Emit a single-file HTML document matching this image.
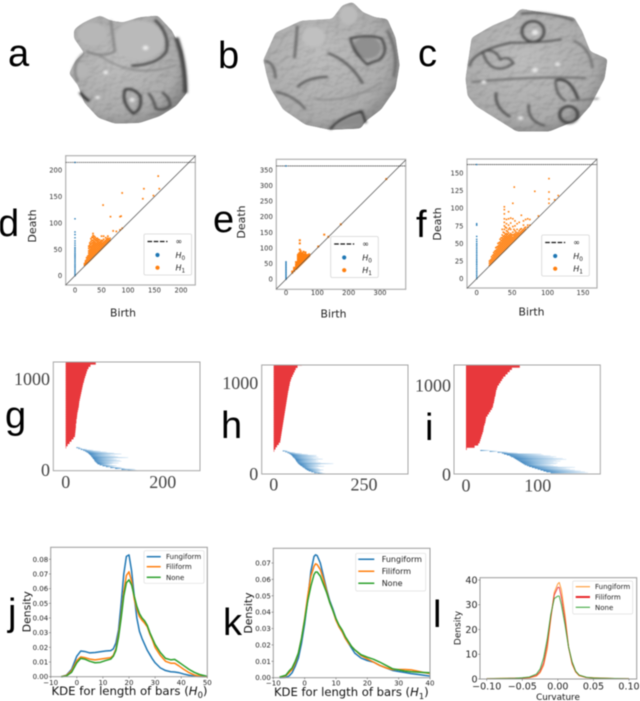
<!DOCTYPE html>
<html lang="en">
<head>
<meta charset="utf-8">
<title>Surface, persistence, barcode and KDE panels</title>
<style>
html,body{margin:0;padding:0;background:#fff;width:640px;height:701px;overflow:hidden}
svg{display:block;filter:blur(.45px)}
text{font-family:"DejaVu Sans","Liberation Sans",sans-serif}
.big{font-family:"Liberation Sans",sans-serif;font-size:38px;fill:#000}
.serif{font-family:"Liberation Serif",serif;font-size:18px;fill:#444}
</style>
</head>
<body>
<svg id="figure" width="640" height="701" viewBox="0 0 640 701" xmlns="http://www.w3.org/2000/svg">
<defs>
<filter id="soft1" x="-20%" y="-20%" width="140%" height="140%"><feGaussianBlur stdDeviation="3"/></filter>
<filter id="soft2" x="-30%" y="-30%" width="160%" height="160%"><feGaussianBlur stdDeviation="9"/></filter>
<filter id="bump" x="-5%" y="-5%" width="110%" height="110%">
<feGaussianBlur in="SourceGraphic" stdDeviation="5" result="b"/>
<feComponentTransfer in="b" result="rounded"><feFuncA type="linear" slope="10" intercept="-4.5"/></feComponentTransfer>
<feTurbulence type="fractalNoise" baseFrequency=".045" numOctaves="2" seed="4" result="n"/>
<feDiffuseLighting in="n" surfaceScale="2.6" diffuseConstant="1.08" lighting-color="#fff" result="l"><feDistantLight azimuth="60" elevation="62"/></feDiffuseLighting>
<feBlend in="rounded" in2="l" mode="multiply" result="m"/>
<feComposite in="m" in2="rounded" operator="in"/>
</filter>
<radialGradient id="shadeA" cx=".42" cy=".42" r=".68"><stop offset="0" stop-color="#bdbdbd"/><stop offset=".72" stop-color="#ababab"/><stop offset="1" stop-color="#7a7a7a"/></radialGradient>
<linearGradient id="blueFade" x1="0" x2="1" y1="0" y2="0"><stop offset="0" stop-color="#3f86c0"/><stop offset=".4" stop-color="#8cb9dc"/><stop offset="1" stop-color="#e2eef8"/></linearGradient>
</defs>

<g transform="scale(.41,.342)">
<path filter="url(#bump)" fill="url(#shadeA)" d="M180,88 Q200,62 245,45 L270,60 L300,65 L340,50 L385,45 L420,90 L445,150 L452,210 L456,272 L430,310 L390,340 L340,360 L280,362 L240,345 L205,300 L190,250 L168,215 L185,175 L205,155 L180,112Z"/>
<ellipse cx="340" cy="118" rx="62" ry="58" fill="#bababa" filter="url(#soft1)"/>
<ellipse cx="225" cy="100" rx="36" ry="34" fill="#b7b7b7" filter="url(#soft1)"/>
<ellipse cx="195" cy="205" rx="20" ry="22" fill="#b5b5b5" filter="url(#soft1)"/>
<g fill="none" stroke="#4a4a4a" filter="url(#soft1)">
<path stroke-width="6" stroke="#3c3c3c" d="M378,58 Q415,100 406,150 Q385,190 320,192"/>
<path stroke-width="11" stroke="#4a4a4a" d="M430,110 Q452,180 452,272"/>
<path stroke-width="5" stroke="#7b7b7b" d="M270,60 Q276,110 280,150 Q250,170 210,150"/>
<path stroke-width="5" stroke="#7b7b7b" d="M205,155 Q170,190 190,240"/>
<path stroke-width="4" stroke="#868686" d="M240,160 Q330,235 430,190"/>
<path stroke-width="7" stroke="#262626" d="M195,270 Q208,290 218,295"/>
<path stroke-width="6" stroke="#303030" d="M305,262 Q295,300 325,332 Q348,320 342,280 Q325,255 305,262Z"/>
<path stroke-width="6" stroke="#4a4a4a" d="M362,272 Q375,290 380,318 Q400,325 415,310 Q415,285 395,270"/>
</g>
<g fill="#ececec" filter="url(#soft1)"><circle cx="355" cy="140" r="7"/><circle cx="258" cy="212" r="6"/><circle cx="322" cy="292" r="6"/><circle cx="238" cy="285" r="5"/></g>
</g>

<g transform="scale(.41,.342)">
<path filter="url(#bump)" fill="url(#shadeA)" d="M642,175 L672,95 L735,60 L810,55 L835,15 L860,5 L885,35 L915,50 L945,55 L965,110 L975,190 L965,260 L930,320 L892,355 L880,376 L805,380 L745,365 L690,320 L660,260 L650,220Z"/>
<ellipse cx="765" cy="108" rx="28" ry="30" fill="#c0c0c0" filter="url(#soft1)"/>
<ellipse cx="850" cy="45" rx="22" ry="28" fill="#bcbcbc" filter="url(#soft1)"/>
<ellipse cx="895" cy="140" rx="34" ry="32" fill="#8f8f8f" filter="url(#soft1)"/>
<g fill="none" stroke="#555" filter="url(#soft1)">
<path stroke-width="5" stroke="#333" d="M855,112 Q900,100 930,112 Q950,150 925,175 L895,188 Q860,150 855,112Z"/>
<path stroke-width="5" d="M725,75 Q722,130 718,170"/>
<path stroke-width="6" d="M800,155 Q855,180 885,245"/>
<path stroke-width="5" d="M645,178 Q670,180 672,230"/>
<path stroke-width="6" d="M725,255 Q750,225 800,225"/>
<path stroke-width="5" d="M672,268 Q720,280 745,320"/>
<path stroke-width="6" stroke="#666" d="M945,90 Q975,160 960,225"/>
<path stroke-width="6" stroke="#333" d="M805,378 Q830,342 882,326 L892,360"/>
<path stroke-width="4" stroke="#888" d="M770,290 Q860,300 930,240"/>
</g>
<path d="M815,372 Q840,345 880,335 L885,358 Q850,368 815,372Z" fill="#8a8a8a" filter="url(#soft1)"/>
</g>

<g transform="scale(.41,.342)">
<path filter="url(#bump)" fill="url(#shadeA)" d="M1135,230 L1150,110 L1200,75 L1250,50 L1270,25 L1340,40 L1400,50 L1420,90 L1440,150 L1482,172 L1475,230 L1440,310 L1410,350 L1340,385 L1260,385 L1200,340 L1160,310 L1140,280Z"/>
<g fill="none" stroke="#4a4a4a" filter="url(#soft1)">
<ellipse cx="1300" cy="92" rx="27" ry="30" stroke-width="6" stroke="#3a3a3a"/>
<path stroke-width="5" d="M1270,40 Q1330,30 1400,60"/>
<path stroke-width="5" d="M1145,195 Q1150,150 1245,125 Q1320,125 1370,115"/>
<path stroke-width="5" d="M1178,150 Q1210,140 1220,175 Q1240,160 1252,185 Q1225,210 1200,195 Q1180,175 1178,150"/>
<path stroke-width="5" stroke="#666" d="M1150,240 Q1300,222 1430,228"/>
<path stroke-width="6" stroke="#333" d="M1355,235 Q1390,222 1410,290"/>
<path stroke-width="5" d="M1355,235 Q1355,280 1380,295"/>
<ellipse cx="1387" cy="335" rx="22" ry="24" stroke-width="7" stroke="#3a3a3a"/>
<path stroke-width="6" d="M1210,270 Q1205,315 1245,342"/>
<path stroke-width="5" d="M1290,305 Q1285,355 1330,368"/>
<path stroke-width="5" stroke="#666" d="M1400,120 Q1440,140 1445,200"/>
<path stroke-width="4" stroke="#666" d="M1390,295 L1460,288"/>
</g>
<g fill="#e8e8e8" filter="url(#soft1)"><circle cx="1305" cy="205" r="7"/><circle cx="1360" cy="188" r="6"/><circle cx="1180" cy="240" r="6"/><circle cx="1270" cy="345" r="6"/><circle cx="1305" cy="95" r="8"/></g>
</g>

<text class="big" x="8" y="66">a</text>
<text class="big" x="218" y="68">b</text>
<text class="big" x="418" y="66">c</text>
<text class="big" x="-2" y="236">d</text>
<text class="big" x="213" y="232">e</text>
<text class="big" x="416" y="237">f</text>
<text class="big" x="5" y="428">g</text>
<text class="big" x="221" y="438">h</text>
<text class="big" x="425" y="440">i</text>
<text class="big" x="8" y="625">j</text>
<text class="big" x="223" y="635">k</text>
<text class="big" x="433" y="627">l</text>
</svg>

<script>
// ---------- persistence diagram data: [birth, [deaths...]] ----------
const dH1 = [[18,[20,23]],[22,[23,26,30,34]],[26,[27,31,35,39,43,47,52,56]],[30,[31,35,39,43,47,51,55,60,65,70]],[34,[35,39,43,47,51,55,59,63,67,72,76,80]],[38,[39,43,47,51,55,59,63,68,73]],[42,[43,47,51,55,59,63,67,71]],[46,[47,51,55,59,63,68]],[50,[51,55,59,63,67,75]],[54,[55,59,63,69,75]],[58,[59,63,67,72]],[62,[63,67,71,75]],[66,[67,71]],
[20,[22,25,28]],[24,[25,29,33,37]],[28,[29,33,37,41,45,49,54,58,62]],[32,[33,37,41,45,49,53,57,62,67,73]],[36,[37,41,45,49,53,57,61,65,70,75]],[40,[41,45,49,53,57,61,66,70]],[44,[45,49,53,57,61,65,69]],[48,[49,53,57,61,65]],[52,[53,57,61,66]],[56,[57,61,65]],[60,[61,65,69]],[64,[65,69]],
[53,[134]],[67,[112]],[85,[112,87]],[87,[113]],[89,[157,90]],[128,[146]],[130,[165]],[148,[152]],[157,[189]],[159,[165]],[72,[85]],[78,[84]]];
const eH1 = [[20,[21,25]],[26,[27,32,37]],[32,[33,38,43,48,55]],[38,[39,44,49,54,60,66,72,78]],[44,[45,50,55,60,66,72,78,85,95,115,125]],[50,[51,56,61,66,72,78,84]],[56,[57,62,67,73,80,88]],[62,[63,68,74,80,86]],[68,[69,74,78]],[74,[75,80]],
[35,[36,41,46,52]],[41,[42,47,52,57,63,69,75,82]],[47,[48,53,58,63,69,75,81,90]],[53,[54,59,64,70,76,83]],[59,[60,65,71,78]],[65,[66,71,77]],[71,[72,77]],
[103,[105]],[122,[143]],[135,[136]],[175,[176]],[320,[321]]];
const fH1 = [[18,[19,22,25]],[21,[22,25,28,31]],[24,[25,28,31,34,37]],[27,[28,31,34,37,40,44]],[30,[31,34,37,40,43,46,50]],[33,[34,37,40,43,46,49,52,56]],[36,[37,40,43,46,49,52,55,58,62,70]],[39,[40,43,46,49,52,55,58,61,65,70,75,80,85,92,98,102]],[42,[43,46,49,52,55,58,61,64,68,72,78,84]],[45,[46,49,52,55,58,61,65,70,76,85,95]],[48,[49,52,55,58,61,64,70,79,86]],[51,[52,55,58,62,66,74,85,107]],[54,[55,58,61,64,68,75,82]],[57,[58,61,64,70,78]],[60,[61,64,68,80]],[63,[64,67,71,90]],[66,[67,70,76,82]],[69,[70,73,84]],[72,[73,76,85]],[75,[76,84]],
[19.5,[20.5,23.5,26.5]],[22.5,[23.5,26.5,29.5,33]],[25.5,[26.5,29.5,32.5,35.5,39]],[28.5,[29.5,32.5,35.5,38.5,41.5,45]],[31.5,[32.5,35.5,38.5,41.5,44.5,47.5,51]],[34.5,[35.5,38.5,41.5,44.5,47.5,50.5,54,58]],[37.5,[38.5,41.5,44.5,47.5,50.5,53.5,56.5,60,66]],[40.5,[41.5,44.5,47.5,50.5,53.5,56.5,59.5,63,73]],[43.5,[44.5,47.5,50.5,53.5,56.5,59.5,63,67]],[46.5,[47.5,50.5,53.5,56.5,59.5,62.5,72]],[49.5,[50.5,53.5,56.5,59.5,62.5]],[52.5,[53.5,56.5,59.5,62.5,70]],[55.5,[56.5,59.5,62.5,66]],[58.5,[59.5,62.5,65.5]],[61.5,[62.5,65.5,70]],[64.5,[65.5,68.5]],[67.5,[68.5,72]],
[53,[130]],[82,[124]],[87,[89]],[102,[142,123,113,107]],[115,[118]],[110,[112]]];
const dH0 = [0,3,6,9,12,15,18,21,24,27,30,33,36,39,42,45,48,51,54,58,62,66,72,78,83,108];
const eH0 = [0,4,8,12,16,20,24,28,32,36,40,44,48,52,56];
const fH0 = [0,2.5,5,7.5,10,12.5,15,17.5,20,22.5,25,27.5,30,32.5,35,37.5,40,42.5,45,47.5,50,53,56,60,76,78];
const dInfinity = 215;
const eInfinity = 363;
const fInfinity = 162;
const dTicksX = [0,50,100,150,200];
const dTicksY = [0,50,100,150,200];
const eTicksX = [0,100,200,300];
const eTicksY = [0,50,100,150,200,250,300,350];
const fTicksX = [0,50,100,150];
const fTicksY = [0,25,50,75,100,125,150];

// ---------- barcode data ----------
const gRed = [1,4,8,12,16,19,19.5,20,20.5,21,21,22,22,23,23.5,24,25,26,27,27.5,28,29,30,31,32,33,34,35,36,37.5,38.5,40,41.5,43,44.5,47,51,62,100];
const hRed = [1.5,5,9,14,18,19,20,21,22,23,24,25,26,27,28,29,30,31,32,33,34,35,36,37,38,39,40,41.5,42.5,44,45,47,49,52,55,58,61,66,78];
const iRed = [1,12,17,19,20,21,22,23,24,24.5,25,26,27,27.5,28,30,32,34,36,37.5,38,39,39.5,40,41,41.5,42,43,44,46,48,50,52,55,58,61,64,75,87];
const gBlueBirth = [22,26,31,36,40,43,46,48,50,52,53,55,56,58,59,60,62,64,66,70,76,83,92,102,115,128];
const gBlueDeath = [30,34,44,57,72,85,100,115,92,102,108,129,100,105,112,115,98,109,96,91,105,100,115,122,143,146];
const hBlueBirth = [25,32,38,43,47,50,52,54,57,59,61,62,64,66,68,71,74,78,81,85,88,92,97,104,112,122];
const hBlueDeath = [38,45,60,78,95,119,118,124,110,136,118,124,118,130,165,130,124,140,120,124,128,138,130,128,135,142];
const iBlueBirth = [20,33,44,50,53,57,61,63,66,68,70,72,74,76,78,80,82,85,88,92,96,100,104,108,112,118];
const iBlueDeath = [33,44,58,72,105,108,118,126,122,135,140,126,132,122,128,126,118,122,128,152,140,145,152,160,166,170];
const gTicksX = [0,200];
const hTicksX = [0,250];
const iTicksX = [0,100];
const barTicksY = [0,1000];

// ---------- KDE data ----------
const jLengths = [-6,-4,-2,0,1.5,3,5,7,9,11,13,14,15,16,17,18,19,20,21,22,23,24,25,26,27,28,29,30,32,34,36,37.5,39,41,43,45,47,50];
const jFungiform = [0,.001,.005,.014,.0175,.0172,.0162,.0165,.017,.0175,.0178,.019,.023,.032,.05,.07,.082,.083,.072,.055,.04,.031,.026,.022,.018,.015,.012,.0095,.006,.0042,.0034,.0032,.0028,.0018,.001,.0004,.0001,0];
const jFiliform = [0,.0008,.004,.011,.0135,.013,.012,.0115,.012,.0125,.013,.0145,.019,.029,.042,.058,.069,.0715,.065,.053,.046,.041,.0385,.0365,.034,.029,.025,.02,.0145,.0105,.0092,.0092,.0075,.005,.0028,.0012,.0004,0];
const jNone = [0,.0005,.003,.0095,.0125,.012,.0105,.0095,.0098,.011,.012,.014,.018,.027,.04,.055,.064,.066,.0625,.055,.048,.043,.04,.038,.035,.03,.026,.022,.0165,.0125,.0115,.0118,.01,.0075,.005,.003,.0015,.0002];
const kLengths = [-8,-6,-5,-4,-3,-2,-1,0,1,2,3,3.5,4,5,6,7,8,9,10,11,12,13,14,15,16,18,20,22,24,26,28,30,32,34,36,38,40];
const kFungiform = [0,.0002,.001,.003,.007,.012,.021,.033,.048,.065,.074,.075,.0745,.07,.062,.054,.047,.042,.036,.031,.028,.024,.021,.018,.015,.012,.0105,.0095,.0075,.006,.0045,.0038,.0032,.0025,.002,.0015,.001];
const kFiliform = [.0003,.0012,.003,.005,.009,.015,.024,.036,.05,.062,.068,.0695,.069,.066,.06,.053,.046,.041,.035,.031,.028,.024,.021,.019,.017,.0135,.0115,.0095,.0075,.006,.005,.005,.005,.0048,.004,.0032,.0025];
const kNone = [.0004,.0015,.004,.006,.01,.015,.024,.035,.047,.056,.063,.0645,.0645,.062,.057,.052,.046,.041,.036,.032,.029,.025,.022,.019,.017,.014,.0125,.0112,.0095,.0075,.0055,.0048,.004,.0036,.0034,.0032,.003];
const lCurvature = [-.10,-.08,-.06,-.05,-.04,-.03,-.025,-.02,-.015,-.01,-.005,0,.002,.005,.01,.015,.02,.025,.03,.04,.05,.06,.08,.10];
const lFungiform = [.1,.3,.3,.4,.5,1.2,2.5,5.5,12,24,35,38.5,39,36,26,13,6,2.8,1.3,.6,.5,.4,.2,.1];
const lFiliform = [.1,.2,.3,.4,.6,1.5,3,6.5,14,25,34,37,37,33,24,13,6.5,3,1.5,.6,.4,.3,.2,.1];
const lNone = [.1,.2,.3,.5,.8,2,4,8.5,16,26,32.5,33.5,33.5,30,22,13,7,3.2,1.6,.7,.4,.3,.2,.1];
const jTicksX = [-10,0,10,20,30,40,50];
const jTicksY = [0,.01,.02,.03,.04,.05,.06,.07,.08];
const kTicksX = [-10,0,10,20,30,40];
const kTicksY = [0,.01,.02,.03,.04,.05,.06,.07];
const lTicksX = [-.10,-.05,0,.05,.10];
const lTicksY = [0,10,20,30,40];
const kdeNames = ['Fungiform','Filiform','None'];

// ---------- helpers ----------
const NS = 'http://www.w3.org/2000/svg';
const fig = document.getElementById('figure');
function mk(parent, tag, attrs, txt) {
  const node = document.createElementNS(NS, tag);
  for (const k in attrs) node.setAttribute(k, attrs[k]);
  if (txt !== undefined) node.textContent = txt;
  parent.appendChild(node);
  return node;
}
function linear(v0, p0, v1, p1) {
  const m = (p1 - p0) / (v1 - v0);
  return v => p0 + (v - v0) * m;
}
function fmt(v, d) { return (v < 0 ? '\u2212' : '') + Math.abs(v).toFixed(d); }
function mathLabel(node, main, sub, size) {
  const a = mk(node, 'tspan', {'font-style':'italic'}, main);
  
  
  const b = mk(node, 'tspan', {'dy':size * .25, 'font-size':size * .72}, sub);
  
  
}

// ---------- persistence diagrams ----------
function drawDiagram(c) {
  const g = mk(fig, 'g', {});
  
  
  const x = linear(c.xv[0], c.xp[0], c.xv[1], c.xp[1]);
  const y = linear(c.yv[0], c.yp[0], c.yv[1], c.yp[1]);
  c.h0.forEach(d => {
    const dot = mk(g, 'circle', {cx:x(0), cy:y(d), r:.8, fill:'#1f77b4'});
    
    
  });
  c.h1.forEach(col => col[1].forEach(d => {
    const dot = mk(g, 'rect', {x:x(col[0]) - c.ms / 2, y:y(d) - c.ms / 2, width:c.ms, height:c.ms, fill:'#ff7f0e'});
    
    
  }));
  const box = mk(g, 'rect', {x:c.box[0], y:c.box[1], width:c.box[2] - c.box[0], height:c.box[3] - c.box[1], fill:'none', stroke:'#b0b0b0', 'stroke-width':1.2});
  
  
  const lo = (c.box[0] - c.xp[0]) / ((c.xp[1] - c.xp[0]) / (c.xv[1] - c.xv[0])) + c.xv[0];
  const hi = (c.box[2] - c.xp[0]) / ((c.xp[1] - c.xp[0]) / (c.xv[1] - c.xv[0])) + c.xv[0];
  const diag = mk(g, 'line', {x1:x(lo), y1:y(lo), x2:x(hi), y2:y(hi), stroke:'#4d4d4d', 'stroke-width':.7});
  
  
  const inf = mk(g, 'line', {x1:c.box[0], y1:y(c.inf), x2:c.box[2], y2:y(c.inf), stroke:'#444', 'stroke-width':.8, 'stroke-dasharray':'1.4 .5'});
  
  
  const infDot = mk(g, 'circle', {cx:x(0), cy:y(c.inf), r:.8, fill:'#1f77b4'});
  
  
  c.tx.forEach(t => {
    const l = mk(g, 'text', {x:x(t), y:c.txBase, 'font-size':6.8, fill:'#333', 'text-anchor':'middle'}, fmt(t, 0));
    
    
  });
  c.ty.forEach(t => {
    const l = mk(g, 'text', {x:c.box[0] - 3.5, y:y(t) + 2.4, 'font-size':6.8, fill:'#333', 'text-anchor':'end'}, fmt(t, 0));
    
    
  });
  const xt = mk(g, 'text', {x:c.birth[0], y:c.birth[1], 'font-size':10.8, fill:'#222', 'text-anchor':'middle'}, 'Birth');
  
  
  const yt = mk(g, 'text', {transform:'translate(' + c.death[0] + ',' + c.death[1] + ') rotate(-90)', 'font-size':11, fill:'#222', 'text-anchor':'middle'}, 'Death');
  
  
  const L = c.legend;
  const lg = mk(g, 'g', {});
  
  
  const lb = mk(lg, 'rect', {x:L[0], y:L[1], width:47.6, height:41, rx:1.5, fill:'#fff', 'fill-opacity':.85, stroke:'#d6d6d6', 'stroke-width':.8});
  
  
  const dash = mk(lg, 'line', {x1:L[0] + 3.5, x2:L[0] + 23.5, y1:L[1] + 7.5, y2:L[1] + 7.5, stroke:'#111', 'stroke-width':1.2, 'stroke-dasharray':'4.6 1.6'});
  
  
  const it = mk(lg, 'text', {x:L[0] + 31.5, y:L[1] + 10, 'font-size':8, fill:'#222'}, '\u221E');
  
  
  const d0 = mk(lg, 'circle', {cx:L[0] + 13.5, cy:L[1] + 21, r:2.1, fill:'#1f77b4'});
  
  
  const t0 = mk(lg, 'text', {x:L[0] + 31.5, y:L[1] + 24, 'font-size':8, fill:'#222'});
  
  
  mathLabel(t0, 'H', '0', 8);
  const d1 = mk(lg, 'circle', {cx:L[0] + 13.5, cy:L[1] + 33.7, r:2.1, fill:'#ff7f0e'});
  
  
  const t1 = mk(lg, 'text', {x:L[0] + 31.5, y:L[1] + 36.7, 'font-size':8, fill:'#222'});
  
  
  mathLabel(t1, 'H', '1', 8);
}
drawDiagram({name:'persistence-diagram-d', ms:1.7, h0:dH0, h1:dH1, inf:dInfinity, tx:dTicksX, ty:dTicksY, xv:[0,200], xp:[75,181], yv:[0,200], yp:[275.7,170.3], box:[65.7,155.7,195.3,285], txBase:292.5, birth:[123,316.5], death:[36,226], legend:[144,234]});
drawDiagram({name:'persistence-diagram-e', ms:2, h0:eH0, h1:eH1, inf:eInfinity, tx:eTicksX, ty:eTicksY, xv:[0,300], xp:[286,380], yv:[0,350], yp:[279.3,170], box:[276.3,159.3,405.7,289.3], txBase:295, birth:[333.5,317.5], death:[245,222], legend:[330.7,236.5]});
drawDiagram({name:'persistence-diagram-f', ms:1.6, h0:fH0, h1:fH1, inf:fInfinity, tx:fTicksX, ty:fTicksY, xv:[0,150], xp:[476.7,583], yv:[0,150], yp:[278.7,173], box:[467,159,597,288], txBase:295, birth:[531.5,315.5], death:[441,224], legend:[541.7,235]});

// ---------- barcodes ----------
function drawBarcode(c) {
  const g = mk(fig, 'g', {});
  
  
  const x = linear(0, c.x0, c.xv, c.xp);
  const y = linear(0, c.y0, 1000, c.y1000);
  c.red.forEach((len, i) => {
    const row = c.redStart + i * 25;
    const top = Math.max(y(row + 25), c.box[1]);
    const b = mk(g, 'rect', {x:x(0), y:top, width:x(len) - x(0), height:y(row) - top + .5, fill:'#e8383c'});
    
    
  });
  c.birth.forEach((b0, i) => {
    const row = c.blueStart - i * 10;
    const b = mk(g, 'rect', {x:x(b0), y:y(row + 10), width:x(c.death[i]) - x(b0), height:y(row) - y(row + 10) + .1, fill:'url(#blueFade)'});
    
    
  });
  const box = mk(g, 'rect', {x:c.box[0], y:c.box[1], width:c.box[2] - c.box[0], height:c.box[3] - c.box[1], fill:'none', stroke:'#a6a6a6', 'stroke-width':1});
  
  
  c.tx.forEach(t => {
    const l = mk(g, 'text', {x:x(t), y:c.txBase, 'text-anchor':'middle', class:'serif'}, String(t));
    
    
  });
  barTicksY.forEach((t, i) => {
    const l = mk(g, 'text', {x:c.yRight, y:c.tyBase[i], 'text-anchor':'end', class:'serif'}, String(t));
    
    
  });
}
drawBarcode({name:'barcode-g', red:gRed, redStart:250, birth:gBlueBirth, death:gBlueDeath, blueStart:250, tx:gTicksX, x0:65.7, xv:200, xp:162.7, y0:470.7, y1000:380, box:[53.3,362,200,470.7], txBase:488, yRight:50, tyBase:[476,385]});
drawBarcode({name:'barcode-h', red:hRed, redStart:250, birth:hBlueBirth, death:hBlueDeath, blueStart:250, tx:hTicksX, x0:273.7, xv:250, xp:364, y0:474, y1000:383.3, box:[261.7,365,408,474], txBase:490.7, yRight:258.3, tyBase:[480,389]});
drawBarcode({name:'barcode-i', red:iRed, redStart:275, birth:iBlueBirth, death:iBlueDeath, blueStart:260, tx:iTicksX, x0:466, xv:100, xp:537.7, y0:474, y1000:385, box:[454,365,600.3,474], txBase:491.7, yRight:451, tyBase:[480.7,391.7]});

// ---------- KDE plots ----------
function drawKde(c) {
  const g = mk(fig, 'g', {});
  
  
  const x = linear(c.xv[0], c.xp[0], c.xv[1], c.xp[1]);
  const y = linear(c.yv[0], c.yp[0], c.yv[1], c.yp[1]);
  c.series.forEach((vals, s) => {
    const d = vals.map((v, i) => (i ? 'L' : 'M') + x(c.xs[i]).toFixed(2) + ',' + y(v).toFixed(2)).join('');
    const p = mk(g, 'path', {d:d, fill:'none', stroke:c.colors[s], 'stroke-width':c.lw, 'stroke-linejoin':'round', 'stroke-opacity':c.alpha});
    
    
  });
  const box = mk(g, 'rect', {x:c.box[0], y:c.box[1], width:c.box[2] - c.box[0], height:c.box[3] - c.box[1], fill:'none', stroke:'#9a9a9a', 'stroke-width':1});
  
  
  c.tx.forEach(t => {
    const m = mk(g, 'line', {x1:x(t), x2:x(t), y1:c.box[3], y2:c.box[3] + 1.8, stroke:'#555', 'stroke-width':.5});
    
    
    const l = mk(g, 'text', {x:x(t), y:c.txBase, 'font-size':c.tickSize, fill:'#222', 'text-anchor':'middle'}, fmt(t, c.xd));
    
    
  });
  c.ty.forEach(t => {
    const m = mk(g, 'line', {x1:c.box[0], x2:c.box[0] - 1.8, y1:y(t), y2:y(t), stroke:'#555', 'stroke-width':.5});
    
    
    const l = mk(g, 'text', {x:c.box[0] - 2.5, y:y(t) + c.tickSize * .36, 'font-size':c.tickSize, fill:'#222', 'text-anchor':'end'}, fmt(t, c.yd));
    
    
  });
  const xt = mk(g, 'text', {x:c.xlab[0], y:c.xlab[1], 'font-size':c.xlabSize, fill:'#111', 'text-anchor':'middle'}, c.xtitle);
  
  
  if (c.sub) mathLabel(xt, 'H', c.sub, c.xlabSize);
  if (c.sub) {
    const close = mk(xt, 'tspan', {dy:-c.xlabSize * .25}, ')');
    
    
  }
  const yt = mk(g, 'text', {transform:'translate(' + c.ylab[0] + ',' + c.ylab[1] + ') rotate(-90)', 'font-size':c.ylabSize, fill:'#111', 'text-anchor':'middle'}, 'Density');
  
  
  const L = c.legend;
  const lg = mk(g, 'g', {});
  
  
  const lb = mk(lg, 'rect', {x:L.x, y:L.y, width:L.w, height:L.h, rx:1.5, fill:'#fff', 'fill-opacity':.85, stroke:'#dedede', 'stroke-width':.7});
  
  
  kdeNames.forEach((n, i) => {
    const sw = mk(lg, 'line', {x1:L.lx[0], x2:L.lx[1], y1:L.rows[i], y2:L.rows[i], stroke:c.colors[i], 'stroke-width':L.sw[i]});
    
    
    const t = mk(lg, 'text', {x:L.tx, y:L.rows[i] + L.fs * .36, 'font-size':L.fs, fill:'#222'}, n);
    
    
  });
}
drawKde({name:'kde-plot-j', xs:jLengths, series:[jFungiform,jFiliform,jNone], colors:['#1f77b4','#ff7f0e','#2ca02c'], lw:1.5, alpha:1, tx:jTicksX, ty:jTicksY, xd:0, yd:2, xv:[-10,50], xp:[50.7,207.3], yv:[0,.08], yp:[676.7,559.3], box:[50.7,547.3,207.3,676.7], txBase:685, tickSize:7, xlab:[129.5,695], xlabSize:11.7, xtitle:'KDE for length of bars (', sub:'0', ylab:[30.5,611.7], ylabSize:10.8, legend:{x:144,y:550.7,w:60,h:32.6,lx:[146.7,160.7],tx:166,rows:[556.7,566.7,577.3],fs:7,sw:[1.5,1.5,1.5]}});
drawKde({name:'kde-plot-k', xs:kLengths, series:[kFungiform,kFiliform,kNone], colors:['#1f77b4','#ff7f0e','#2ca02c'], lw:1.5, alpha:1, tx:kTicksX, ty:kTicksY, xd:0, yd:2, xv:[-10,40], xp:[273.3,430], yv:[0,.07], yp:[677.7,563], box:[273.3,548.3,430,677.7], txBase:685.5, tickSize:7, xlab:[351.3,696], xlabSize:11.6, xtitle:'KDE for length of bars (', sub:'1', ylab:[252,613], ylabSize:10.8, legend:{x:355.7,y:553.3,w:70,h:37.7,lx:[358.3,374.3],tx:381.7,rows:[559.3,571.3,583.3],fs:8,sw:[1.5,1.5,1.5]}});
drawKde({name:'kde-plot-l', xs:lCurvature, series:[lFungiform,lFiliform,lNone], colors:['#ff8c1a','#e8262a','#2ca02c'], lw:1, alpha:.85, tx:lTicksX, ty:lTicksY, xd:2, yd:0, xv:[-.1,.1], xp:[486.7,629], yv:[0,40], yp:[679,580], box:[480,577.7,636.7,679], txBase:689.5, tickSize:9.5, xlab:[558,700], xlabSize:8.8, xtitle:'Curvature', ylab:[460.5,628], ylabSize:9, legend:{x:572.7,y:581,w:60,h:33,lx:[575.7,590],tx:595,rows:[586.7,597,607.3],fs:7,sw:[1,2,1]}});
</script>
</body>
</html>
